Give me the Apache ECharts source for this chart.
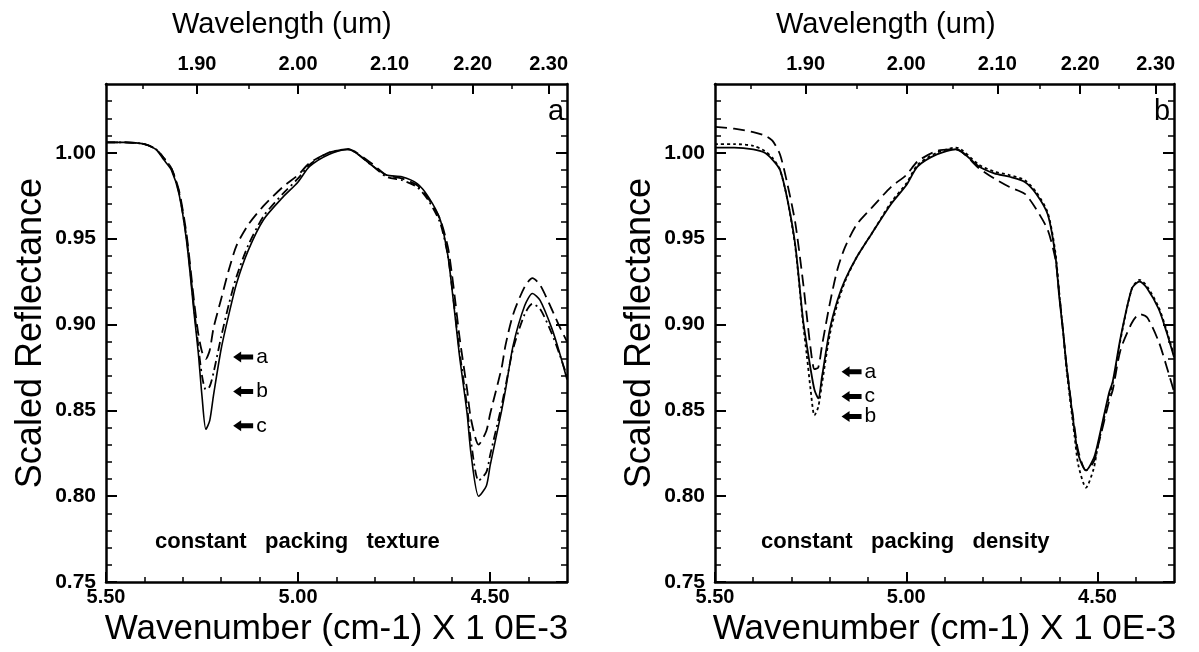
<!DOCTYPE html>
<html><head><meta charset="utf-8">
<script src="https://cdn.jsdelivr.net/npm/echarts@6/dist/echarts.min.js"></script>
<style>html,body{margin:0;padding:0;background:#fff}#c{width:1199px;height:652px}</style>
</head><body><div id="c"></div>
<script>
// Wavenumber (cm-1) x 1e-3
const wavenumber = [5.50,5.45,5.40,5.37,5.35,5.33,5.31,5.29,5.27,5.26,5.25,5.24,5.23,5.22,5.20,5.18,5.16,5.13,5.09,5.04,5.00,4.97,4.92,4.87,4.81,4.77,4.73,4.69,4.66,4.63,4.61,4.60,4.59,4.58,4.56,4.55,4.53,4.51,4.50,4.47,4.46,4.44,4.41,4.39,4.37,4.34,4.32,4.30];

// Panel a: constant packing texture
const textureA = [1.006,1.006,1.005,1.002,0.997,0.991,0.978,0.952,0.912,0.895,0.884,0.880,0.885,0.898,0.915,0.932,0.946,0.958,0.969,0.980,0.987,0.994,1.000,1.002,0.994,0.987,0.985,0.981,0.973,0.961,0.945,0.930,0.912,0.893,0.862,0.845,0.830,0.838,0.848,0.875,0.888,0.906,0.922,0.927,0.923,0.909,0.899,0.890];
const textureB = [1.006,1.006,1.005,1.002,0.997,0.991,0.977,0.950,0.908,0.888,0.870,0.862,0.864,0.872,0.893,0.912,0.928,0.946,0.963,0.976,0.985,0.993,1.000,1.002,0.993,0.986,0.984,0.980,0.972,0.959,0.940,0.923,0.904,0.885,0.852,0.832,0.809,0.814,0.824,0.853,0.864,0.886,0.906,0.912,0.909,0.895,0.883,0.870];
const textureC = [1.006,1.006,1.005,1.002,0.996,0.990,0.976,0.948,0.905,0.884,0.858,0.839,0.844,0.859,0.886,0.906,0.924,0.943,0.961,0.974,0.983,0.992,0.999,1.002,0.993,0.987,0.986,0.982,0.974,0.961,0.940,0.922,0.902,0.882,0.848,0.825,0.800,0.806,0.818,0.850,0.862,0.888,0.911,0.918,0.914,0.898,0.884,0.868];

// Panel b: constant packing density
const densityA = [1.015,1.014,1.012,1.010,1.007,0.999,0.981,0.959,0.925,0.905,0.886,0.874,0.875,0.888,0.912,0.932,0.945,0.958,0.968,0.980,0.987,0.995,1.001,1.002,0.991,0.985,0.980,0.976,0.967,0.955,0.938,0.918,0.896,0.874,0.840,0.826,0.815,0.820,0.828,0.855,0.862,0.885,0.901,0.906,0.904,0.890,0.876,0.861];
const densityB = [1.005,1.005,1.004,1.001,0.997,0.990,0.972,0.945,0.901,0.882,0.862,0.847,0.852,0.866,0.894,0.912,0.925,0.939,0.953,0.971,0.982,0.993,1.000,1.003,0.993,0.989,0.987,0.984,0.977,0.965,0.942,0.918,0.896,0.872,0.835,0.818,0.805,0.816,0.828,0.858,0.866,0.891,0.921,0.926,0.922,0.910,0.897,0.882];
const densityC = [1.003,1.003,1.002,1.000,0.996,0.990,0.972,0.946,0.903,0.888,0.874,0.862,0.857,0.870,0.897,0.914,0.926,0.939,0.953,0.970,0.981,0.992,0.999,1.002,0.992,0.988,0.986,0.983,0.976,0.964,0.940,0.916,0.896,0.874,0.838,0.824,0.815,0.822,0.830,0.860,0.867,0.892,0.921,0.925,0.921,0.909,0.896,0.881];

// Ticks
const yMajorTicks = [0.75,0.80,0.85,0.90,0.95,1.00];
const yMinorTicks = [0.76,0.77,0.78,0.79,0.81,0.82,0.83,0.84,0.86,0.87,0.88,0.89,0.91,0.92,0.93,0.94,0.96,0.97,0.98,0.99,1.01,1.02,1.03];
const wnMajorTicks = [5.50,5.00,4.50];
const wnMinorTicks = [5.40,5.30,5.20,5.10,4.90,4.80,4.70,4.60,4.40];
const wlMajorTicks = [1.90,2.00,2.10,2.20,2.30];
const wlMinorTicks = [1.85,1.95,2.05,2.15,2.25];

// Arrow annotations
const arrowWavenumber = 5.143;
const arrowLabelsA = ['a','b','c'];
const arrowValuesA = [0.881,0.861,0.841];
const arrowLabelsB = ['a','c','b'];
const arrowValuesB = [0.8724,0.858,0.8464];

const FONT = 'Liberation Sans, Arial, Helvetica, sans-serif';
const WN_MIN = 4.30, WN_MAX = 5.50, Y_MIN = 0.75, Y_MAX = 1.04;
const toWn = l => 10 / l;

function xAxesFor(g) {
  const base = {type:'value', gridIndex:g, min:WN_MIN, max:WN_MAX, inverse:true, splitLine:{show:false}};
  return [
    Object.assign({}, base, {position:'bottom',
      axisLine:{show:true, onZero:false, lineStyle:{color:'#000', width:2.5}},
      axisTick:{show:true, inside:true, length:10, customValues:wnMajorTicks, lineStyle:{color:'#000', width:2}},
      axisLabel:{show:true, customValues:wnMajorTicks, margin:5, color:'#000', fontFamily:FONT, fontWeight:'bold', fontSize:20,
        formatter:v => v.toFixed(2)},
      name:'Wavenumber (cm-1) X 1 0E-3', nameLocation:'middle', nameGap:22,
      nameTextStyle:{color:'#000', fontFamily:FONT, fontSize:35, verticalAlign:'top'}}),
    Object.assign({}, base, {position:'bottom',
      axisLine:{show:false, onZero:false},
      axisTick:{show:true, inside:true, length:5, customValues:wnMinorTicks, lineStyle:{color:'#000', width:1.5}},
      axisLabel:{show:false}}),
    Object.assign({}, base, {position:'top',
      axisLine:{show:true, onZero:false, lineStyle:{color:'#000', width:2.5}},
      axisTick:{show:true, inside:true, length:10, customValues:wlMajorTicks.map(toWn), lineStyle:{color:'#000', width:2}},
      axisLabel:{show:true, customValues:wlMajorTicks.map(toWn), margin:10, color:'#000', fontFamily:FONT, fontWeight:'bold', fontSize:20,
        formatter:v => (10 / v).toFixed(2)}}),
    Object.assign({}, base, {position:'top',
      axisLine:{show:false, onZero:false},
      axisTick:{show:true, inside:true, length:5, customValues:wlMinorTicks.map(toWn), lineStyle:{color:'#000', width:1.5}},
      axisLabel:{show:false}})
  ];
}
function yAxesFor(g) {
  const base = {type:'value', gridIndex:g, min:Y_MIN, max:Y_MAX, splitLine:{show:false}};
  return [
    Object.assign({}, base, {position:'left',
      axisLine:{show:true, onZero:false, lineStyle:{color:'#000', width:2.5}},
      axisTick:{show:true, inside:true, length:11, customValues:yMajorTicks, lineStyle:{color:'#000', width:2}},
      axisLabel:{show:true, customValues:yMajorTicks, margin:10, color:'#000', fontFamily:FONT, fontWeight:'bold', fontSize:21,
        formatter:v => v.toFixed(2)},
      name:'Scaled Reflectance', nameLocation:'middle', nameGap:57, nameRotate:90,
      nameTextStyle:{color:'#000', fontFamily:FONT, fontSize:36}}),
    Object.assign({}, base, {position:'left',
      axisLine:{show:false, onZero:false},
      axisTick:{show:true, inside:true, length:6, customValues:yMinorTicks, lineStyle:{color:'#000', width:1.5}},
      axisLabel:{show:false}}),
    Object.assign({}, base, {position:'right',
      axisLine:{show:true, onZero:false, lineStyle:{color:'#000', width:2.5}},
      axisTick:{show:true, inside:true, length:11, customValues:yMajorTicks, lineStyle:{color:'#000', width:2}},
      axisLabel:{show:false}}),
    Object.assign({}, base, {position:'right',
      axisLine:{show:false, onZero:false},
      axisTick:{show:true, inside:true, length:6, customValues:yMinorTicks, lineStyle:{color:'#000', width:1.5}},
      axisLabel:{show:false}})
  ];
}
function curve(name, vals, g, dash, width) {
  return {type:'line', name, xAxisIndex:g*4, yAxisIndex:g*4, data:wavenumber.map((w,i)=>[w, vals[i]]),
    showSymbol:false, symbol:'none', smooth:0.25, silent:true, animation:false,
    lineStyle:{color:'#000', width:width, type:dash}, z:3};
}
const arrowPath = 'path://M0,5.5 L8,0 L8,3 L20,3 L20,8 L8,8 L8,11 Z';
function arrows(labels, vals, g) {
  return {type:'scatter', xAxisIndex:g*4, yAxisIndex:g*4, symbol:arrowPath, symbolSize:[20,11], silent:true, animation:false,
    itemStyle:{color:'#000', opacity:1},
    data:vals.map((v,i)=>({value:[arrowWavenumber, v], label:{formatter:labels[i]}})),
    label:{show:true, position:'right', distance:3, color:'#000', opacity:1, fontFamily:FONT, fontSize:21}};
}
const titleStyle = {color:'#000', fontFamily:FONT, fontSize:29, fontWeight:'normal'};
const noteStyle = {color:'#000', fontFamily:FONT, fontSize:22, fontWeight:'bold'};

const option = {
  backgroundColor:'#fff',
  animation:false,
  grid:[
    {left:106, top:84, width:461, height:501},
    {left:715, top:84, width:459, height:501}
  ],
  title:[
    {text:'Wavelength (um)', left:167, top:5, textStyle:titleStyle},
    {text:'Wavelength (um)', left:771, top:5, textStyle:titleStyle},
    {text:'a', left:543, top:92, textStyle:titleStyle},
    {text:'b', left:1149, top:92, textStyle:titleStyle},
    {text:'constant   packing   texture', left:150, top:526, textStyle:noteStyle},
    {text:'constant   packing   density', left:756, top:526, textStyle:noteStyle}
  ],
  xAxis:[...xAxesFor(0), ...xAxesFor(1)],
  yAxis:[...yAxesFor(0), ...yAxesFor(1)],
  series:[
    curve('a', textureA, 0, [12,6], 1.8),
    curve('b', textureB, 0, [9,4,2,4], 1.8),
    curve('c', textureC, 0, 'solid', 1.6),
    arrows(arrowLabelsA, arrowValuesA, 0),
    curve('a', densityA, 1, [12,6], 1.8),
    curve('b', densityB, 1, [3,3], 1.8),
    curve('c', densityC, 1, 'solid', 1.8),
    arrows(arrowLabelsB, arrowValuesB, 1)
  ]
};
const chart = echarts.init(document.getElementById('c'), null, {renderer:'canvas'});
chart.setOption(option);
</script>
</body></html>
